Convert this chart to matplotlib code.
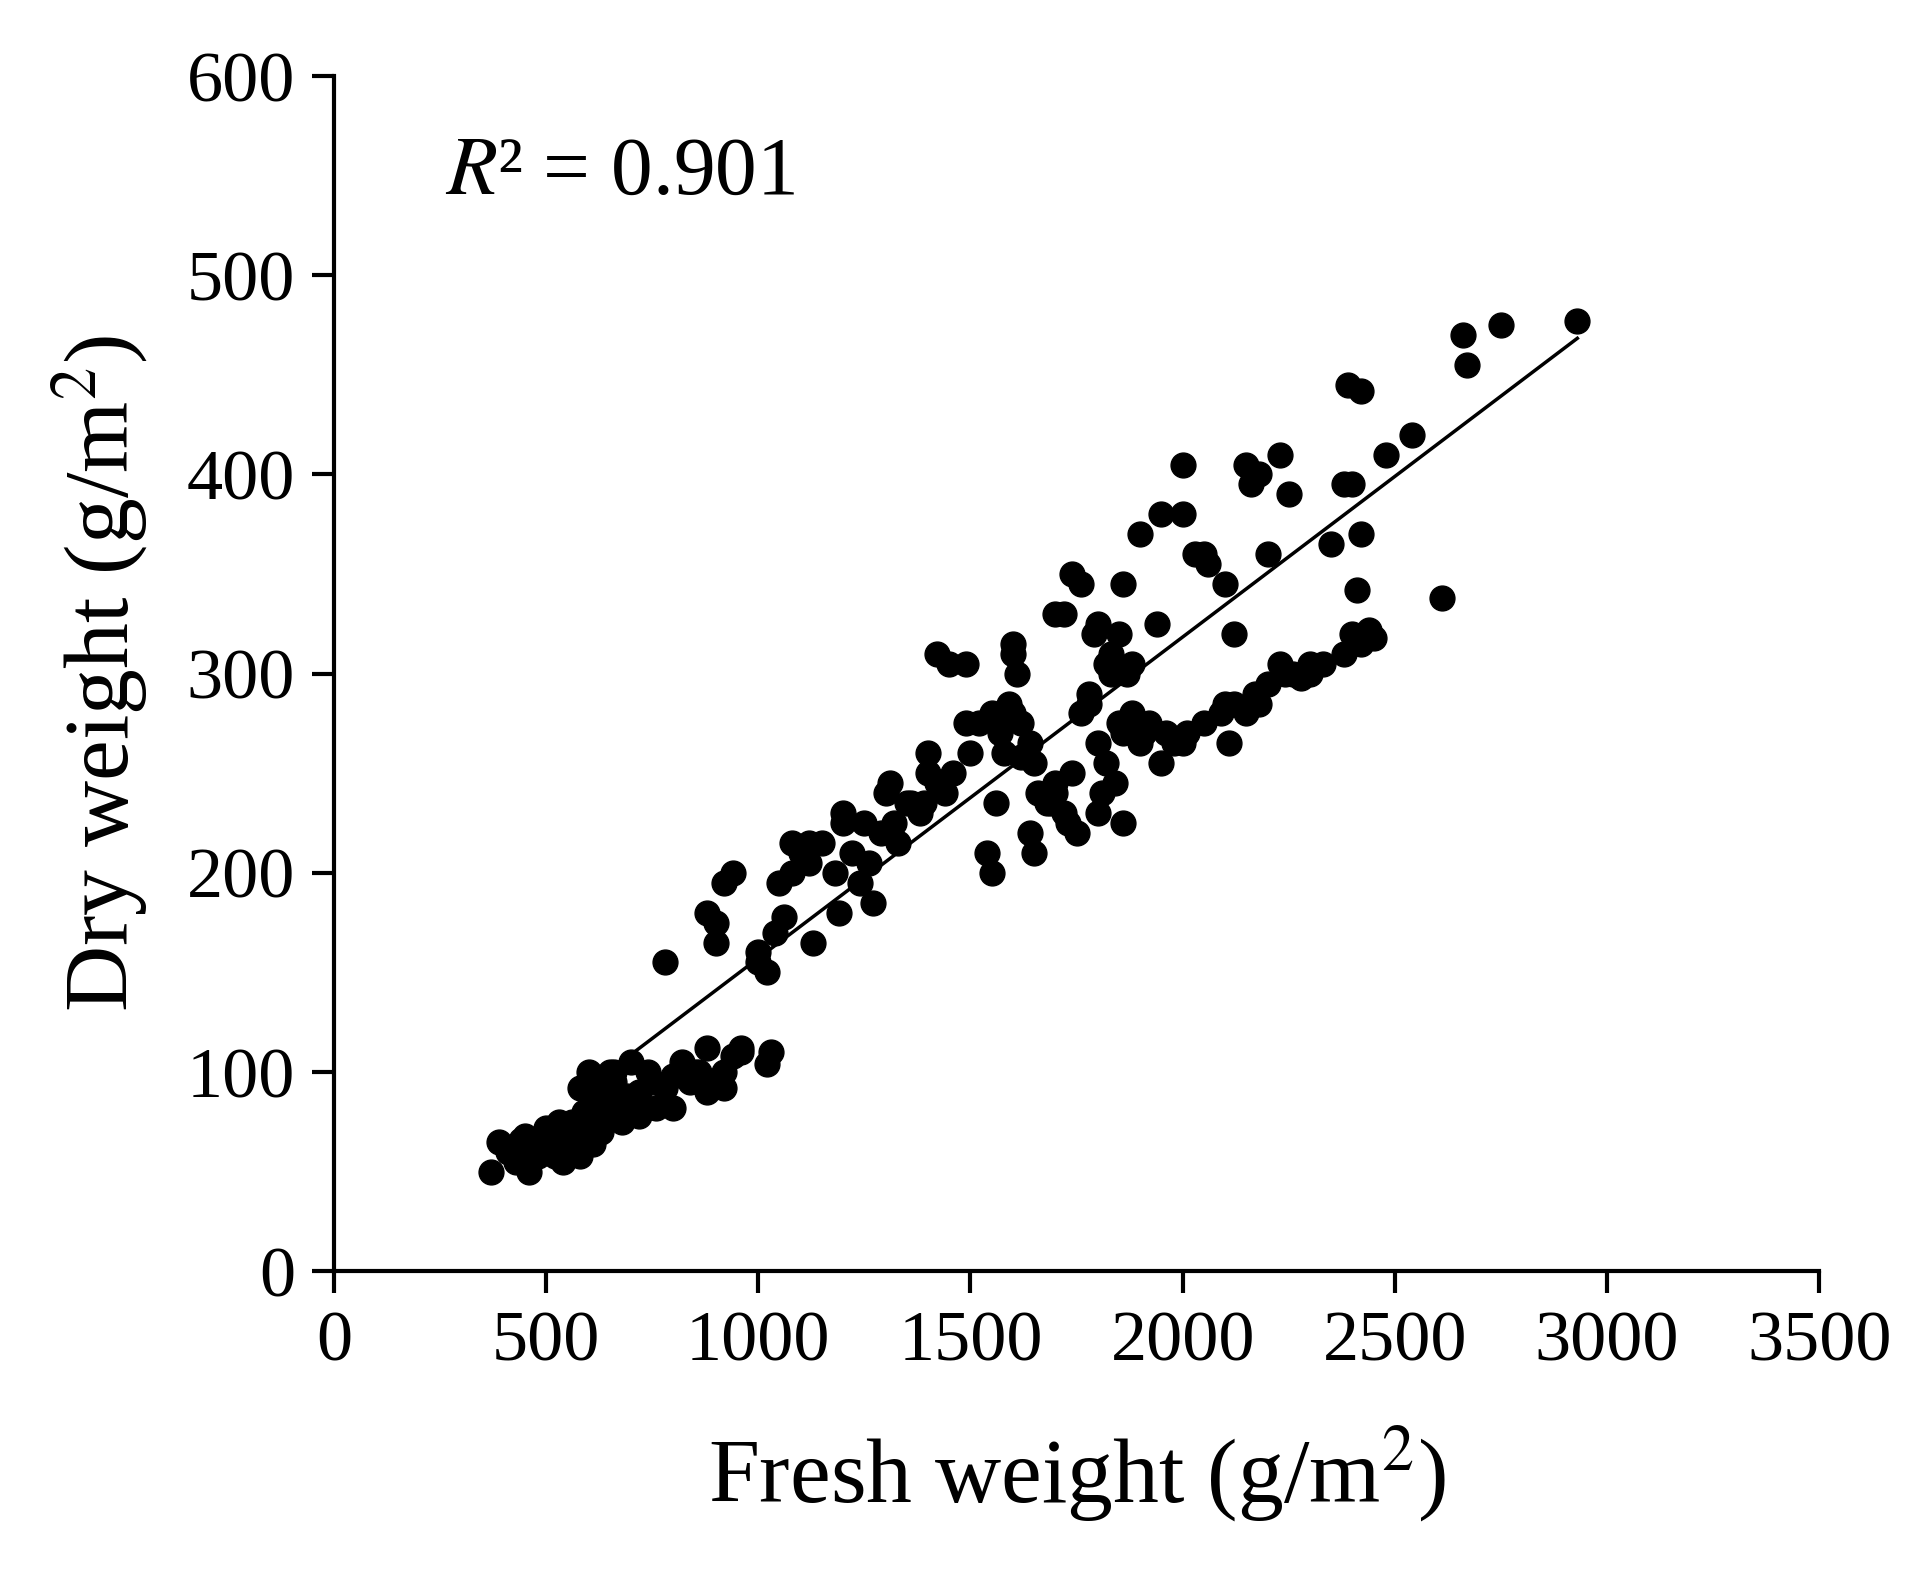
import matplotlib.pyplot as plt
import numpy as np

plt.rcParams['font.family'] = ['Liberation Serif', 'DejaVu Serif']
plt.rcParams['mathtext.fontset'] = 'stix'

# points (fresh weight, dry weight)
fresh = [370, 390, 410, 430, 450, 460, 470, 480, 500, 510, 520, 530, 540, 550, 560, 570, 580, 590, 600, 610,
         620, 630, 640, 650, 660, 680, 700, 720, 740, 420, 440, 480, 500, 520, 540, 560, 580, 600, 620, 640,
         660, 690, 720, 760, 780, 800, 820, 840, 860, 880, 900, 920, 940, 960, 1020, 1030, 590, 610, 650, 700,
         780, 880, 900, 920, 940, 900, 1000, 1020, 1040, 1060, 1080, 1100, 1120, 1150, 1180, 1200, 1220, 1240, 1270, 1290,
         1300, 1320, 1350, 1380, 1400, 1420, 1440, 1460, 1490, 1500, 1520, 1550, 1570, 1590, 1600, 1620, 1640, 1650, 1660, 1690,
         1700, 1720, 1730, 1740, 1760, 1780, 1800, 1810, 1820, 1840, 1850, 1860, 1880, 1900, 1910, 1920, 1950, 1960, 1980, 2000,
         2010, 2050, 2090, 2100, 2110, 2120, 2150, 2170, 2180, 2200, 2230, 2240, 2260, 2280, 2300, 2330, 2350, 2380, 2400, 2410,
         2420, 2440, 2450, 2480, 2540, 2610, 2660, 2670, 2750, 2930, 1420, 1490, 1560, 1600, 1610, 1540, 1550, 1640, 1650, 1700,
         1740, 1790, 1820, 1830, 1860, 1880, 1940, 2000, 2050, 2100, 2180, 2230, 2400, 2420, 1080, 1120, 1200, 1250, 1310, 1360,
         1400, 1580, 1620, 1680, 1720, 1760, 1800, 1830, 1850, 1870, 1900, 1950, 2030, 2120, 2160, 2200, 2390, 2420, 480, 520,
         560, 600, 640, 700, 750, 800, 850, 880, 920, 960, 1000, 1050, 1130, 1190, 1260, 1330, 1390, 1450, 1600, 1700,
         1750, 1780, 1800, 1860, 2000, 2060, 2150, 2250, 2300, 2380]
dry = [50, 65, 60, 55, 68, 50, 62, 58, 70, 65, 60, 75, 55, 68, 62, 72, 58, 80, 95, 85,
       78, 70, 90, 82, 100, 75, 85, 90, 100, 62, 66, 60, 72, 65, 58, 75, 92, 100, 88, 80,
       95, 88, 78, 82, 92, 98, 105, 95, 100, 90, 95, 100, 108, 112, 104, 110, 70, 64, 100, 105,
       155, 180, 175, 195, 200, 165, 155, 150, 170, 178, 200, 210, 205, 215, 200, 225, 210, 195, 185, 220,
       240, 225, 235, 230, 260, 245, 240, 250, 275, 260, 275, 280, 270, 285, 280, 275, 265, 255, 240, 235,
       240, 230, 225, 250, 280, 290, 265, 240, 255, 245, 275, 270, 280, 265, 270, 275, 255, 270, 265, 265,
       270, 275, 280, 285, 265, 285, 280, 290, 285, 295, 305, 300, 300, 298, 305, 305, 365, 310, 320, 342,
       315, 322, 318, 410, 420, 338, 470, 455, 475, 477, 310, 305, 235, 315, 300, 210, 200, 220, 210, 330,
       350, 320, 305, 310, 345, 305, 325, 380, 360, 345, 400, 410, 395, 370, 215, 215, 230, 225, 245, 235,
       250, 260, 258, 235, 330, 345, 325, 300, 320, 300, 370, 380, 360, 320, 395, 360, 445, 442, 64, 58,
       70, 78, 85, 80, 95, 82, 100, 112, 92, 110, 160, 195, 165, 180, 205, 215, 235, 305, 310, 245,
       220, 285, 230, 225, 405, 355, 405, 390, 300, 395]

x = np.array(fresh)
y = np.array(dry)
k, b = np.polyfit(x, y, 1)
line_x = np.array([700, 2930])

fig = plt.figure(figsize=(19.19, 15.86), dpi=100)
ax = fig.add_axes([0.174, 0.1985, 0.774, 0.7535])
ax.scatter(x, y, s=320, color='black', zorder=3)
ax.plot(line_x, k * line_x + b + 5, color='black', linewidth=2.5)
ax.set_xlim(0, 3500)
ax.set_ylim(0, 600)
ax.set_xticks(range(0, 3501, 500))
ax.set_yticks(range(0, 601, 100))
ax.spines['right'].set_color('none')
ax.spines['top'].set_color('none')
for s in ['left', 'bottom']:
    ax.spines[s].set_linewidth(3)
ax.tick_params(direction='out', length=16, width=3, labelsize=52, pad=12)
ax.set_xlabel('Fresh weight (g/m$^2$)', fontsize=66, labelpad=35)
ax.set_ylabel('Dry weight (g/m$^2$)', fontsize=66, labelpad=25)
ax.text(0.075, 0.95, '$R$² = 0.901', transform=ax.transAxes, fontsize=60, va='top')
plt.savefig('out.png', dpi=100)
